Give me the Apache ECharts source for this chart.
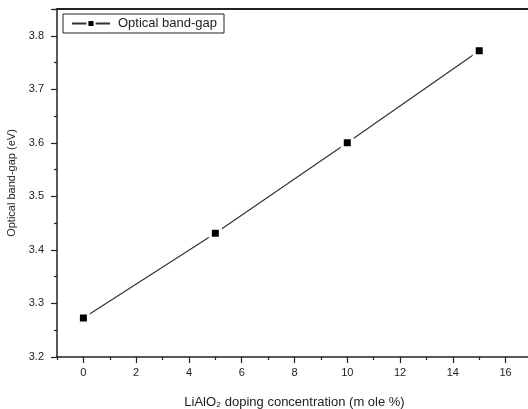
<!DOCTYPE html>
<html><head><meta charset="utf-8">
<script src="https://cdn.jsdelivr.net/npm/echarts@6/dist/echarts.min.js"></script>
<style>html,body{margin:0;padding:0;background:#fff}#c{width:528px;height:409px}</style>
</head><body><div id="c"></div>
<script>
const concentrations = [0, 5, 10, 15];
const bandGap = [3.273, 3.431, 3.600, 3.772];
const seriesName = 'Optical band-gap';
const xTitle = 'LiAlO\u2082 doping concentration (m ole %)';
const yTitle = 'Optical band-gap (eV)';
const xMajorTicks = [0, 2, 4, 6, 8, 10, 12, 14, 16];
const xMinorTicks = [-1, 1, 3, 5, 7, 9, 11, 13, 15, 17];

const font = 'Liberation Sans, Arial, sans-serif';
const chart = echarts.init(document.getElementById('c'));
const lineC = '#222';
chart.setOption({
  animation: false,
  backgroundColor: '#fff',
  grid: {left: 57, top: 9, right: -4, bottom: 52, containLabel: false, outerBoundsMode: 'none'},
  legend: {
    left: 63, top: 14, orient: 'horizontal',
    borderColor: lineC, borderWidth: 1, padding: [3, 7, 3, 8],
    itemWidth: 38, itemHeight: 9, itemGap: 4,
    textStyle: {fontFamily: font, fontSize: 13, color: lineC, padding: [0, 0, 0, 3]},
    data: [{name: seriesName}]
  },
  xAxis: [
    {
      type: 'value', min: -1, max: 17, interval: 1,
      axisLine: {show: true, onZero: false, lineStyle: {color: lineC, width: 1.5}},
      axisTick: {show: true, length: 6, customValues: xMajorTicks, lineStyle: {color: lineC, width: 1.2}},
      axisLabel: {customValues: xMajorTicks, color: lineC, fontFamily: font, fontSize: 11, margin: 10},
      splitLine: {show: false},
      name: xTitle, nameLocation: 'middle', nameGap: 39,
      nameTextStyle: {fontFamily: font, fontSize: 13, color: lineC}
    },
    {
      type: 'value', position: 'bottom', min: -1, max: 17, interval: 1,
      axisLine: {show: false, onZero: false},
      axisTick: {show: true, length: 3, customValues: xMinorTicks, lineStyle: {color: lineC, width: 1.2}},
      axisLabel: {show: false}, splitLine: {show: false}
    },
    {type: 'value', position: 'top', min: -1, max: 17,
     axisLine: {show: true, onZero: false, lineStyle: {color: lineC, width: 2}},
     axisTick: {show: false}, axisLabel: {show: false}, splitLine: {show: false}}
  ],
  yAxis: {
    type: 'value', min: 3.2, max: 3.85, interval: 0.1,
    axisLine: {show: true, onZero: false, lineStyle: {color: lineC, width: 1.5}},
    axisTick: {show: true, length: 6, lineStyle: {color: lineC, width: 1.2}},
    minorTick: {show: true, splitNumber: 2, length: 3, lineStyle: {color: lineC, width: 1.2}},
    splitLine: {show: false},
    axisLabel: {color: lineC, fontFamily: font, fontSize: 11, margin: 13,
      formatter: v => v > 3.81 ? '' : v.toFixed(1)},
    name: yTitle, nameLocation: 'middle', nameGap: 39, nameRotate: 90,
    nameTextStyle: {fontFamily: font, fontSize: 11, color: lineC}
  },
  series: [{
    name: seriesName, type: 'line', xAxisIndex: 0,
    data: concentrations.map((c, i) => [c, bandGap[i]]),
    symbol: 'rect', symbolSize: 10,
    lineStyle: {color: '#333', width: 1.2},
    itemStyle: {color: '#000', borderColor: '#fff', borderWidth: 3},
    emphasis: {disabled: true}
  }]
});
</script></body></html>
